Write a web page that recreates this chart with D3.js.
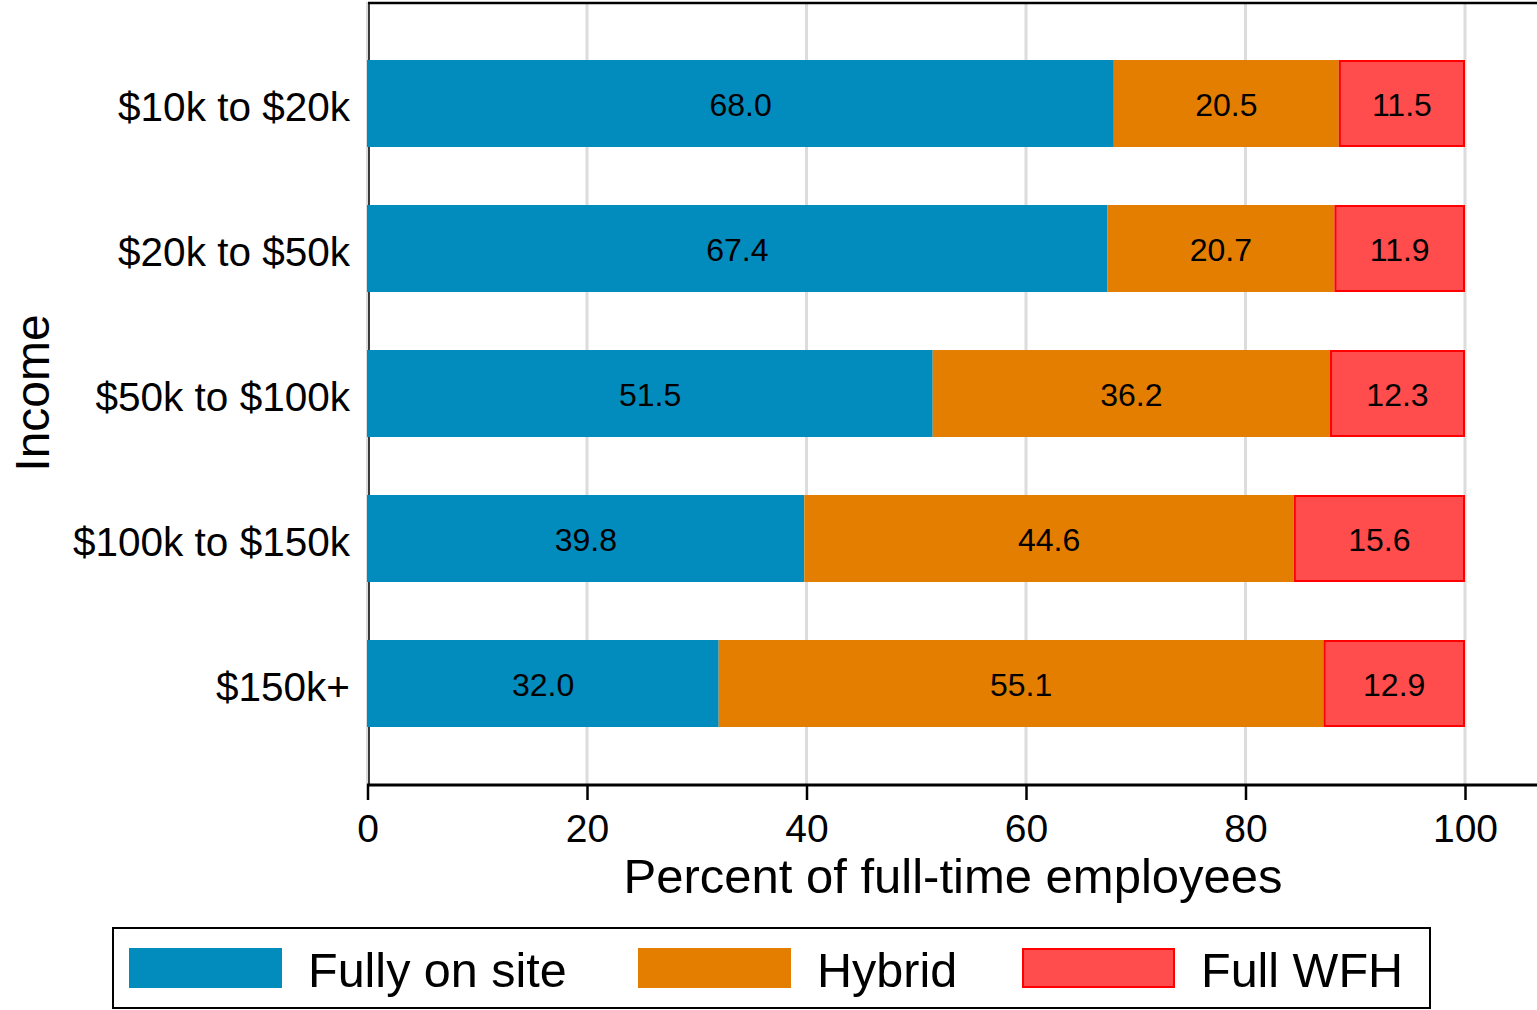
<!DOCTYPE html>
<html><head><meta charset="utf-8">
<script src="https://cdn.jsdelivr.net/npm/d3@7"></script>
<style>html,body{margin:0;padding:0;background:#fff}svg{display:block}text{font-family:"Liberation Sans",Arial,Helvetica,sans-serif}</style>
</head><body>
<svg id="c" width="1537" height="1010"></svg>
<script>
const categories = ["$10k to $20k","$20k to $50k","$50k to $100k","$100k to $150k","$150k+"];
const seriesNames = ["Fully on site","Hybrid","Full WFH"];
const onSite = [68.0,67.4,51.5,39.8,32.0];
const hybrid = [20.5,20.7,36.2,44.6,55.1];
const fullWFH = [11.5,11.9,12.3,15.6,12.9];
const xTicks = [0,20,40,60,80,100];
const fills = ["#028bbd","#e37e00","#ff4c4c"];
const strokes = ["none","none","#ff0000"];

const svg = d3.select("#c");
const T = 2, B = 784, R = 1537;
const x = d3.scaleLinear().domain([0,100]).range([367.5,1465]);
const step = 145;
const yb = d3.scaleBand().domain(categories).range([60-29, 60-29+step*5]).paddingInner(0.4).paddingOuter(0.2);

// gridlines
svg.append("g").selectAll("line").data(xTicks).join("line")
  .attr("x1",d=>x(d)).attr("x2",d=>x(d)).attr("y1",T).attr("y2",B)
  .attr("stroke","#dcdcdc").attr("stroke-width",3);

// left axis line
svg.append("line").attr("x1",369).attr("x2",369).attr("y1",T).attr("y2",B).attr("stroke","#000").attr("stroke-width",1.5);

const data = categories.map((c,i)=>({cat:c, vals:[onSite[i],hybrid[i],fullWFH[i]]}));
const stacked = d3.stack().keys([0,1,2]).value((d,k)=>d.vals[k])(data);

stacked.forEach((layer,k)=>{
  const g = svg.append("g");
  g.selectAll("rect").data(layer).join("rect")
    .attr("x",d=>x(d[0])-(k===0?0.5:0)+(k===2?1:0))
    .attr("width",d=>x(d[1])-x(d[0])+(k===0?0.5:0)-(k===2?2:0))
    .attr("y",d=>yb(d.data.cat)+(k===2?1:0))
    .attr("height",yb.bandwidth()-(k===2?2:0))
    .attr("fill",fills[k]).attr("stroke",strokes[k]).attr("stroke-width",2);
  g.selectAll("text").data(layer).join("text")
    .attr("x",d=>(x(d[0])+x(d[1]))/2)
    .attr("y",d=>yb(d.data.cat)+yb.bandwidth()/2)
    .attr("dy","0.39em").attr("text-anchor","middle")
    .attr("font-size",32).attr("fill","#000")
    .text(d=>d.data.vals[k].toFixed(1));
});

// top border
svg.append("line").attr("x1",368).attr("x2",R).attr("y1",3).attr("y2",3).attr("stroke","#000").attr("stroke-width",2.5);

// x axis
const xa = svg.append("g").attr("transform",`translate(0,${B})`)
  .call(d3.axisBottom(x).tickValues(xTicks).tickSize(16).tickPadding(14).tickFormat(d3.format("d")));
xa.select(".domain").remove();
xa.selectAll(".tick line").attr("stroke","#000").attr("stroke-width",2.5);
xa.selectAll(".tick text").attr("font-size",39).attr("fill","#000").attr("font-family","Liberation Sans, Arial, sans-serif");
svg.append("line").attr("x1",367).attr("x2",R).attr("y1",B+1).attr("y2",B+1).attr("stroke","#000").attr("stroke-width",3);

// y labels
const ya = svg.append("g").attr("transform",`translate(368,0)`)
  .call(d3.axisLeft(yb).tickSize(0).tickPadding(18));
ya.select(".domain").remove();
ya.selectAll(".tick text").attr("font-size",40.5).attr("dy","0.42em").attr("fill","#000").attr("font-family","Liberation Sans, Arial, sans-serif");

// titles
svg.append("text").attr("x",953).attr("y",893).attr("text-anchor","middle").attr("font-size",49).text("Percent of full-time employees");
svg.append("text").attr("transform","translate(49,393) rotate(-90)").attr("text-anchor","middle").attr("font-size",48).text("Income");

// legend
svg.append("rect").attr("x",113).attr("y",928).attr("width",1317).attr("height",80).attr("fill","#fff").attr("stroke","#000").attr("stroke-width",2);
const legX = [129,638,1022];
const leg = svg.append("g").selectAll("g").data(seriesNames).join("g");
leg.append("rect").attr("x",(d,i)=>legX[i]+(i===2?1:0)).attr("y",(d,i)=>948+(i===2?1:0))
  .attr("width",(d,i)=>153-(i===2?2:0)).attr("height",(d,i)=>40-(i===2?2:0))
  .attr("fill",(d,i)=>fills[i]).attr("stroke",(d,i)=>strokes[i]).attr("stroke-width",2);
leg.append("text").attr("x",(d,i)=>legX[i]+179).attr("y",970).attr("dy","0.36em").attr("font-size",48.5).text(d=>d);
</script>
</body></html>
